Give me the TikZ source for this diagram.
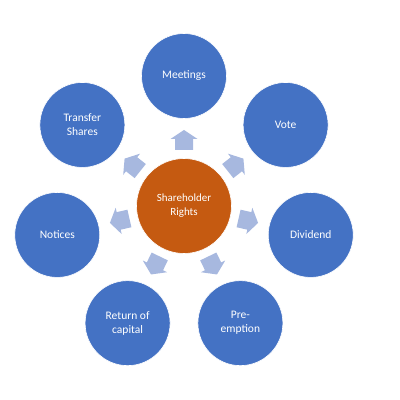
\documentclass[tikz,border=0pt]{standalone}
\usepackage{fontspec}
\setmainfont{Carlito}
\usetikzlibrary{calc}
\definecolor{obl}{HTML}{4472C4}
\definecolor{oor}{HTML}{C55A11}
\definecolor{arr}{HTML}{A7B8DF}
\begin{document}
\begin{tikzpicture}[x=1pt,y=1pt,
  outer/.style={circle,fill=obl,draw=white,line width=0.6pt,minimum size=85pt,inner sep=0pt,text=white,align=center,font=\fontsize{11.5}{14}\selectfont},
  hub/.style={circle,fill=oor,draw=white,line width=0.6pt,minimum size=95pt,inner sep=0pt,text=white,align=center,font=\fontsize{11}{14}\selectfont},
  blockarrow/.style={fill=arr}]
\useasboundingbox (0,0) rectangle (400,400);
\coordinate (c) at (184,194);
\node[hub] (hubn) at (c) {Shareholder\\Rights};
\foreach \n/\a/\t in {meet/90/{Meetings}, vote/38.57/{Vote}, div/-12.86/{Dividend}, pre/-64.29/{Pre-\\emption}, ret/-115.71/{Return of\\capital}, not/192.86/{Notices}, tra/141.43/{Transfer\\Shares}}{
  \node[outer] (\n) at ($(c)+(\a:130)$) {\t};
  \begin{scope}[shift={(c)},rotate=\a]
    \path[blockarrow] (56,-9) -- (67,-9) -- (67,-13.5) -- (76,0) -- (67,13.5) -- (67,9) -- (56,9) -- cycle;
  \end{scope}
}
\end{tikzpicture}
\end{document}
